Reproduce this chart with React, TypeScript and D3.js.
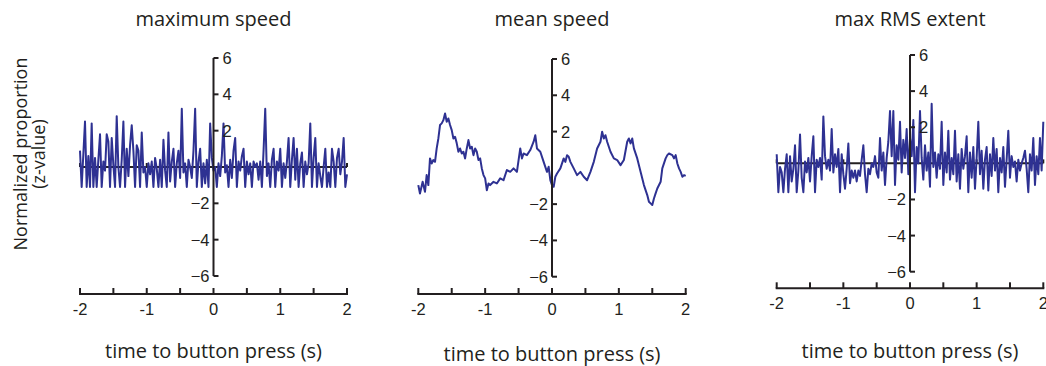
import * as d3 from "d3";

// sample times for the two spiky panels (step 0.025 s)
const sampleCount = 161;

const maxSpeed = [
  0.9, -1.1, 0.7, 2.5, -1.1, 0.6, -1.1, 2.4, -1.1, 0.5, -1.1, 0.4, 1.8, -1.1, 0.3, -0.2, 1.8, 1.4, -1.1, 1.6,
  0.1, -1.1, 2.8, 0.0, -1.1, 0.4, 2.5, -1.1, 1.0, -0.5, 1.2, 2.3, 0.9, -1.1, 1.2, 0.9, -1.1, 1.9, -0.3, 0.0,
  -1.1, 0.2, -0.4, 0.3, -1.1, 0.5, -0.1, -1.1, 0.4, -1.1, 1.5, -0.2, -1.1, 1.9, -0.8, 0.3, 1.0, -1.1, 0.2, 0.9,
  -0.6, 3.2, -0.3, 0.2, -1.1, 0.4, 0.0, -0.6, 0.9, 3.2, -1.1, 0.3, 1.0, -1.1, 0.2, -0.9, 0.4, -1.1, 2.4, 0.5,
  -0.2, 0.0, -1.1, 0.2, -0.5, 0.6, 2.4, -0.3, 0.1, -1.1, 0.4, -0.6, 0.9, 1.6, -1.1, 0.3, -0.2, 0.6, 1.0, -1.1,
  0.3, -0.4, 0.2, -1.1, 0.3, 0.0, 0.2, -0.7, 0.3, -1.1, 0.9, 3.2, -0.5, 0.2, -1.1, 0.4, 1.0, -1.1, 0.3, -0.2,
  1.0, -1.1, 0.2, -0.6, 0.3, 1.6, -1.1, 0.4, 1.6, -0.7, 1.0, -1.1, 0.2, 0.8, -1.1, 0.3, -0.4, 0.2, 2.4, -1.1,
  0.5, 1.6, -1.1, 0.2, -0.5, -1.1, 0.0, 1.0, -1.1, -0.3, -1.1, 1.0, 0.3, -1.1, 0.5, 1.0, -0.4, 0.3, 1.6, -1.1,
  -0.4,
];

const meanSpeedTime = [
  -2.0, -1.975, -1.935, -1.9, -1.875, -1.85, -1.825, -1.8, -1.775, -1.75, -1.725, -1.7, -1.675, -1.65, -1.625,
  -1.6, -1.575, -1.55, -1.525, -1.5, -1.475, -1.45, -1.425, -1.4, -1.375, -1.35, -1.325, -1.3, -1.275, -1.25,
  -1.225, -1.2, -1.175, -1.15, -1.125, -1.1, -1.075, -1.05, -1.025, -1.0, -0.975, -0.95, -0.925, -0.875, -0.825,
  -0.775, -0.725, -0.675, -0.625, -0.575, -0.525, -0.475, -0.45, -0.425, -0.375, -0.325, -0.275, -0.25, -0.225,
  -0.175, -0.125, -0.075, -0.05, -0.025, 0.0, 0.025, 0.05, 0.075, 0.125, 0.175, 0.2, 0.225, 0.25, 0.275, 0.325,
  0.375, 0.425, 0.475, 0.525, 0.575, 0.625, 0.675, 0.725, 0.75, 0.775, 0.8, 0.825, 0.875, 0.925, 0.975, 1.025,
  1.075, 1.125, 1.15, 1.175, 1.2, 1.225, 1.275, 1.325, 1.375, 1.425, 1.45, 1.475, 1.5, 1.525, 1.55, 1.575, 1.625,
  1.65, 1.7, 1.725, 1.75, 1.8, 1.825, 1.85, 1.875, 1.9, 1.925, 1.95, 1.975, 2.0,
];

const meanSpeed = [
  -0.95, -1.41, -0.77, -1.32, -0.4, -0.95, 0.52, 0.24, 0.43, 0.33, 1.07, 1.62, 2.36, 2.45, 2.63, 3.0, 2.54, 2.72,
  2.36, 2.08, 1.62, 1.71, 1.35, 0.89, 1.07, 0.79, 0.89, 0.52, 1.07, 1.53, 1.07, 1.16, 0.7, 1.07, 0.89, 0.43, 0.52,
  -0.03, -0.4, -0.58, -1.23, -0.86, -0.95, -0.77, -0.86, -0.58, -0.68, -0.12, -0.22, -0.03, -0.22, 1.07, 0.52,
  0.79, 0.7, 0.98, 1.44, 1.8, 1.07, 0.89, 0.33, -0.22, 0.06, -0.68, -0.95, -1.04, -0.49, -0.31, -0.03, 0.52, 0.33,
  0.7, 0.61, 0.33, -0.03, -0.4, -0.22, -0.49, -0.68, -0.22, 0.33, 1.07, 1.44, 1.99, 1.62, 1.8, 1.44, 0.89, 0.52,
  0.43, 0.15, 0.43, 1.44, 1.62, 1.35, 1.62, 1.07, 0.52, -0.22, -0.95, -1.5, -1.87, -1.96, -2.05, -1.69, -1.41,
  -1.14, -0.77, -0.03, 0.52, 0.7, 0.79, 0.7, 0.52, 0.7, 0.24, -0.03, -0.22, -0.49, -0.4, -0.44,
];

const maxRmsExtent = [
  0.5, -1.6, -0.2, -0.5, -1.6, -0.3, 0.5, -1.6, 0.4, -1.0, -0.3, 1.0, -1.6, -0.4, 1.6, -0.8, -1.6, 0.1, -0.5, 0.3,
  -1.0, 0.4, 1.5, -1.6, 0.2, -0.2, 0.3, -0.9, 2.6, 0.4, -0.3, 0.2, -0.4, 1.9, -0.5, 0.5, -0.2, 0.8, -1.6, 0.5,
  -0.6, -1.4, -0.3, 1.1, -1.1, -0.4, -0.8, -0.4, -1.0, -0.4, -0.7, 0.2, 1.0, -0.6, -1.6, -0.3, -0.6, 0.0, -0.2, 0.4,
  -0.5, -0.8, 1.4, -0.4, 0.6, -1.2, 0.3, 1.2, 2.9, 0.4, 2.9, -1.2, 1.0, 0.2, 2.3, -0.5, 1.3, 0.3, 1.9, -0.6,
  1.4, 0.4, 2.4, -1.6, 0.9, 0.0, 2.9, 0.3, -0.9, 1.0, -0.4, 0.6, -1.3, 3.3, -0.2, 0.6, -0.8, 0.5, -0.3, 2.3,
  -1.2, 0.6, -0.5, 1.8, -0.9, 0.3, -0.6, 1.8, -1.0, 0.5, -1.4, 0.8, -0.3, 0.4, 1.5, -1.6, 0.6, -0.8, 0.9, -1.4,
  0.3, 2.3, -0.6, 0.7, -1.4, 0.2, 0.9, -1.5, 0.5, -0.7, 1.4, -0.4, 0.8, -1.6, 0.3, -0.5, 0.9, -1.3, 0.2, 1.8,
  -0.8, 0.4, -0.2, 0.1, -1.0, 0.2, -0.4, 0.0, 0.3, 0.7, -0.3, -1.6, 0.5, -0.4, 1.4, -1.2, 0.4, -0.6, 1.4, -0.4,
  2.3,
];

const titles = ["maximum speed", "mean speed", "max RMS extent"];
const xTicks = [-2, -1, 0, 1, 2];
const xMinorTicks = [-2, -1.5, -1, -0.5, 0, 0.5, 1, 1.5, 2];
const yTicks = [6, 4, 2, -2, -4, -6];

const sampleTimes = d3.range(sampleCount).map((i) => -2 + (4 * i) / (sampleCount - 1));

const series = [
  { t: sampleTimes, v: maxSpeed, zeroLine: true },
  { t: meanSpeedTime, v: meanSpeed, zeroLine: false },
  { t: sampleTimes, v: maxRmsExtent, zeroLine: true },
];

// pixel frame of each panel
const frames = [
  { x0: 80, x1: 347, yTop: 58, yBot: 276, axisY: 294, labelY: 358 },
  { x0: 418.3, x1: 685.7, yTop: 59, yBot: 276.7, axisY: 294, labelY: 361 },
  { x0: 776.7, x1: 1043.3, yTop: 55, yBot: 271.7, axisY: 288.3, labelY: 358 },
];

const blue = "#2e3192";
const ink = "#231f20";
const tickFont = "'Liberation Sans', Arial, sans-serif";
const labelFont = "'Open Sans', 'Noto Sans', sans-serif";

function Panel({ idx }: { idx: number }) {
  const f = frames[idx];
  const s = series[idx];
  const x = d3.scaleLinear().domain([-2, 2]).range([f.x0, f.x1]);
  const y = d3.scaleLinear().domain([-6, 6]).range([f.yBot, f.yTop]);
  const line = d3
    .line<number>()
    .x((_, i) => x(s.t[i]))
    .y((d) => y(d));
  const ax = x(0);
  const mid = (f.x0 + f.x1) / 2;

  return (
    <g>
      <text x={mid} y={26} textAnchor="middle" fontFamily={labelFont} fontSize={20} fill={ink}>
        {titles[idx]}
      </text>

      {s.zeroLine && (
        <g stroke={ink} strokeWidth={2}>
          <line x1={x(-2)} x2={x(2)} y1={y(0)} y2={y(0)} />
          {[-2, -1, 1, 2].map((t) => (
            <line key={t} x1={x(t)} x2={x(t)} y1={y(0)} y2={y(0) - 4} />
          ))}
        </g>
      )}

      <path d={line(s.v) || ""} fill="none" stroke={blue} strokeWidth={2} strokeLinejoin="round" />

      {/* y axis */}
      <g stroke={ink} strokeWidth={2}>
        <line x1={ax} x2={ax} y1={y(6)} y2={y(-6)} />
        {yTicks.map((t) => (
          <line key={t} x1={ax} x2={ax + 5} y1={y(t)} y2={y(t)} />
        ))}
      </g>
      {yTicks.map((t) => (
        <text
          key={t}
          x={t > 0 ? ax + 9 : ax - 4}
          y={y(t)}
          dy="0.36em"
          textAnchor={t > 0 ? "start" : "end"}
          fontFamily={tickFont}
          fontSize={16.5}
          fill={ink}
        >
          {t > 0 ? String(t) : "\u2212" + String(-t)}
        </text>
      ))}

      {/* x axis */}
      <g stroke={ink} strokeWidth={2}>
        <line x1={x(-2) - 1} x2={x(2) + 1} y1={f.axisY} y2={f.axisY} />
        {xMinorTicks.map((t) => (
          <line key={t} x1={x(t)} x2={x(t)} y1={f.axisY} y2={f.axisY - 6} />
        ))}
      </g>
      {xTicks.map((t) => (
        <text
          key={t}
          x={x(t)}
          y={f.axisY + 21}
          textAnchor="middle"
          fontFamily={tickFont}
          fontSize={16.5}
          fill={ink}
        >
          {String(t)}
        </text>
      ))}
      <text
        x={mid}
        y={f.labelY}
        textAnchor="middle"
        fontFamily={labelFont}
        fontSize={20}
        fill={ink}
      >
        time to button press (s)
      </text>
    </g>
  );
}

export default function App() {
  return (
    <svg
      width={1046}
      height={366}
      style={{ position: "absolute", left: 0, top: 0, background: "#fff" }}
    >
      <g transform="translate(21,154) rotate(-90)">
        <text textAnchor="middle" dy="0.35em" fontFamily={labelFont} fontSize={18} fill={ink}>
          Normalized proportion
        </text>
        <text y={18} textAnchor="middle" dy="0.35em" fontFamily={labelFont} fontSize={18} fill={ink}>
          (z-value)
        </text>
      </g>
      {[0, 1, 2].map((i) => (
        <Panel key={i} idx={i} />
      ))}
    </svg>
  );
}
